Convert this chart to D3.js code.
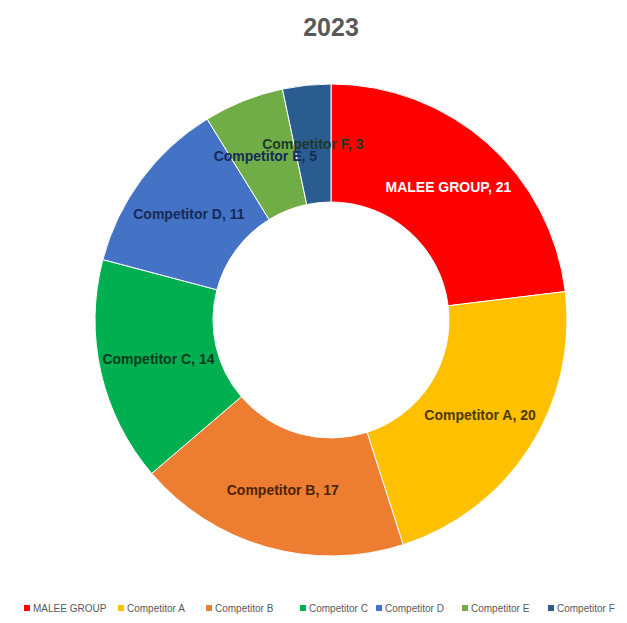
<!DOCTYPE html>
<html>
<head>
<meta charset="utf-8">
<script src="https://cdn.jsdelivr.net/npm/d3@7"></script>
<style>
  body { margin: 0; background: #fff; }
  svg { display: block; }
</style>
</head>
<body>
<svg id="chart" width="627" height="623"></svg>
<script>
// data
const names = ["MALEE GROUP", "Competitor A", "Competitor B", "Competitor C", "Competitor D", "Competitor E", "Competitor F"];
const values = [21, 20, 17, 14, 11, 5, 3];
const colors = ["#ff0000", "#ffc000", "#ed7d31", "#00b050", "#4472c4", "#70ad47", "#2a5c8f"];
const labelColors = ["#ffffff", "#4a3a00", "#4d2406", "#053a1c", "#142b5a", "#142b5a", "#1e3a2a"];

const width = 627, height = 623;
const cx = 331, cy = 320;
const outerR = 236, innerR = 118;

const svg = d3.select("#chart");

svg.append("text")
    .attr("x", cx)
    .attr("y", 36)
    .attr("text-anchor", "middle")
    .attr("font-family", "Liberation Sans, Arial, sans-serif")
    .attr("font-weight", "bold")
    .attr("font-size", 25)
    .attr("fill", "#595959")
    .text("2023");

const pie = d3.pie().sort(null).value(d => d);
const arcs = pie(values);
const arc = d3.arc().innerRadius(innerR).outerRadius(outerR);
const labelArc = d3.arc().innerRadius((innerR + outerR) / 2).outerRadius((innerR + outerR) / 2);

const g = svg.append("g").attr("transform", `translate(${cx},${cy})`);

g.selectAll("path")
    .data(arcs)
    .join("path")
    .attr("d", arc)
    .attr("fill", (d, i) => colors[i])
    .attr("stroke", "#ffffff")
    .attr("stroke-width", 1);

g.selectAll("text")
    .data(arcs)
    .join("text")
    .attr("transform", d => `translate(${labelArc.centroid(d)})`)
    .attr("text-anchor", "middle")
    .attr("dy", "0.35em")
    .attr("font-family", "Liberation Sans, Arial, sans-serif")
    .attr("font-weight", "bold")
    .attr("font-size", 14)
    .attr("fill", (d, i) => labelColors[i])
    .text((d, i) => `${names[i]}, ${values[i]}`);

// legend
const legendX = [24, 118, 206, 300, 376, 462, 548];
const legend = svg.append("g").attr("transform", "translate(0,608)");
const item = legend.selectAll("g")
    .data(names)
    .join("g")
    .attr("transform", (d, i) => `translate(${legendX[i]},0)`);
item.append("rect")
    .attr("x", 0).attr("y", -3)
    .attr("width", 6).attr("height", 6)
    .attr("fill", (d, i) => colors[i]);
item.append("text")
    .attr("x", 9)
    .attr("dy", "0.35em")
    .attr("font-family", "Liberation Sans, Arial, sans-serif")
    .attr("font-size", 10)
    .attr("fill", "#595959")
    .text(d => d);
</script>
</body>
</html>
